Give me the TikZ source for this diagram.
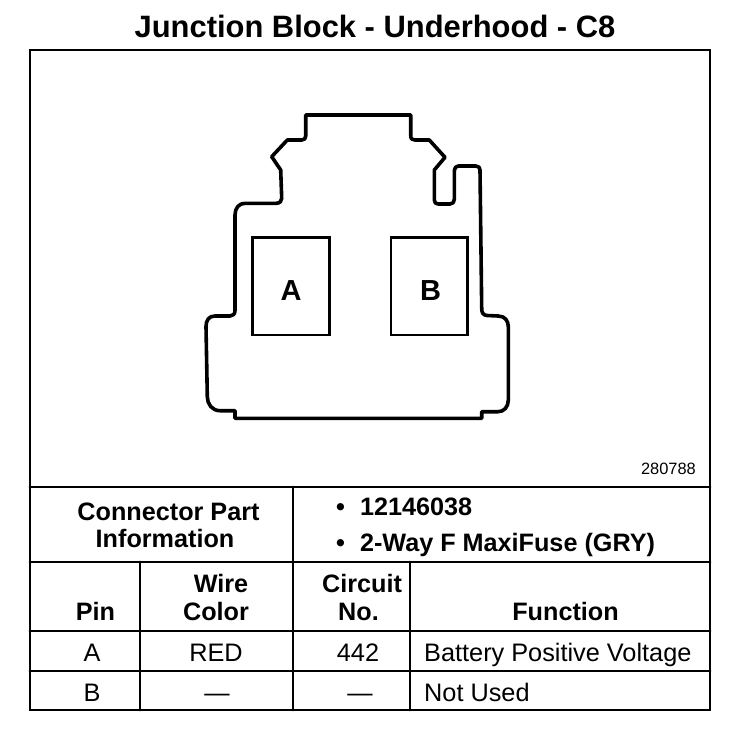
\documentclass[tikz,border=0pt]{standalone}
\usepackage{fontspec}
\setmainfont{Liberation Sans}
\begin{document}
\begin{tikzpicture}[x=1pt,y=-1pt,
  rule/.style={line width=2.8pt,line cap=round},
  outline/.style={line width=3.6pt,line join=round},
  pinbox/.style={line width=2.8pt},
  head/.style={font=\fontsize{25.2}{25.2}\selectfont\bfseries,anchor=base,inner sep=0pt},
  body/.style={font=\fontsize{25.3}{25.3}\selectfont,anchor=base,inner sep=0pt},
  pinlabel/.style={inner sep=0pt,font=\fontsize{29}{29}\selectfont\bfseries},
  left/.style={anchor=base west}]
\useasboundingbox (0,0) rectangle (752,734);
\fill[white] (0,0) rectangle (752,734);
% frame and table rules
\draw[rule] (30,50) rectangle (710,710);
\draw[rule] (30,487) -- (710,487);
\draw[rule] (30,562) -- (710,562);
\draw[rule] (30,631) -- (710,631);
\draw[rule] (30,671) -- (710,671);
\draw[rule] (293,487) -- (293,710);
\draw[rule] (140,562) -- (140,710);
\draw[rule] (410,562) -- (410,710);
% connector outline
\draw[outline] (305.7,115) -- (410.7,115) -- (410.7,135)
  .. controls (410.7,139) and (412,140) .. (415,140) -- (429.3,140)
  -- (445,157.3) -- (434.3,170) -- (434.3,200)
  .. controls (434.3,203) and (436,204) .. (438.3,204) -- (450,204)
  .. controls (453,204) and (454.3,202) .. (454.3,199.3) -- (454.3,170.7)
  .. controls (454.3,168) and (456,166) .. (458.3,166) -- (476,166)
  .. controls (479,166) and (480,168) .. (480,170) -- (481.7,308)
  .. controls (481.7,313) and (483,315) .. (487,315.5) -- (498.3,316)
  .. controls (505,316) and (508.3,321) .. (508.3,326.7) -- (508.3,400)
  .. controls (508.3,407) and (504,411.7) .. (498,411.7) -- (481.7,411.7)
  -- (481.7,418.3) -- (235,418.3) -- (235,410.7) -- (220,410.7)
  .. controls (212,410.7) and (207.3,404) .. (207.3,396.7) -- (206,326.7)
  .. controls (206,320) and (209,316) .. (215,316) -- (230,316)
  .. controls (233,316) and (235,314) .. (235,310.7) -- (235,215)
  .. controls (235,208) and (239,203.3) .. (245,203.3) -- (276,203.3)
  .. controls (280,203.3) and (281.7,201) .. (281.7,198.3) -- (280.7,170)
  -- (271.7,156.7) -- (287.3,140) -- (301.7,140)
  .. controls (304.5,140) and (305.7,138.5) .. (305.7,136) -- cycle;
% pin boxes
\node[draw,pinbox,minimum width=76.6pt,minimum height=97.7pt,inner sep=0pt] (boxA) at (291,286.2) {};
\node[draw,pinbox,minimum width=76.6pt,minimum height=97.7pt,inner sep=0pt] (boxB) at (429.3,286.2) {};
\node[pinlabel] (la) at (291,290.5) {A};
\node[pinlabel] (lb) at (430.5,290.5) {B};
% title
\node[head,font=\fontsize{30.9}{30.9}\selectfont\bfseries] (title) at (375,37) {Junction Block - Underhood - C8};
\node[body,font=\fontsize{16.4}{16.4}\selectfont,anchor=base east] (id) at (696,474) {280788};
% part information
\node[head] (p1) at (168.5,520) {Connector Part};
\node[head] (p2) at (165,547) {Information};
\node[head,left] (b1) at (336,515) {•\hspace{15pt}12146038};
\node[head,left] (b2) at (336,551) {•\hspace{15pt}2-Way F MaxiFuse (GRY)};
% column heads
\node[head] (h1) at (95.5,620) {Pin};
\node[head] (h2a) at (221,592) {Wire};
\node[head] (h2b) at (216,620) {Color};
\node[head] (h3a) at (362,592) {Circuit};
\node[head] (h3b) at (358.5,620) {No.};
\node[head] (h4) at (565.5,620) {Function};
% rows
\node[body] (r1a) at (92,661) {A};
\node[body] (r1b) at (216,661) {RED};
\node[body] (r1c) at (358,661) {442};
\node[body,left] (r1d) at (424,661) {Battery Positive Voltage};
\node[body] (r2a) at (92,701) {B};
\node[body] (r2b) at (217,701) {—};
\node[body] (r2c) at (360,701) {—};
\node[body,left] (r2d) at (424,701) {Not Used};
\end{tikzpicture}
\end{document}
